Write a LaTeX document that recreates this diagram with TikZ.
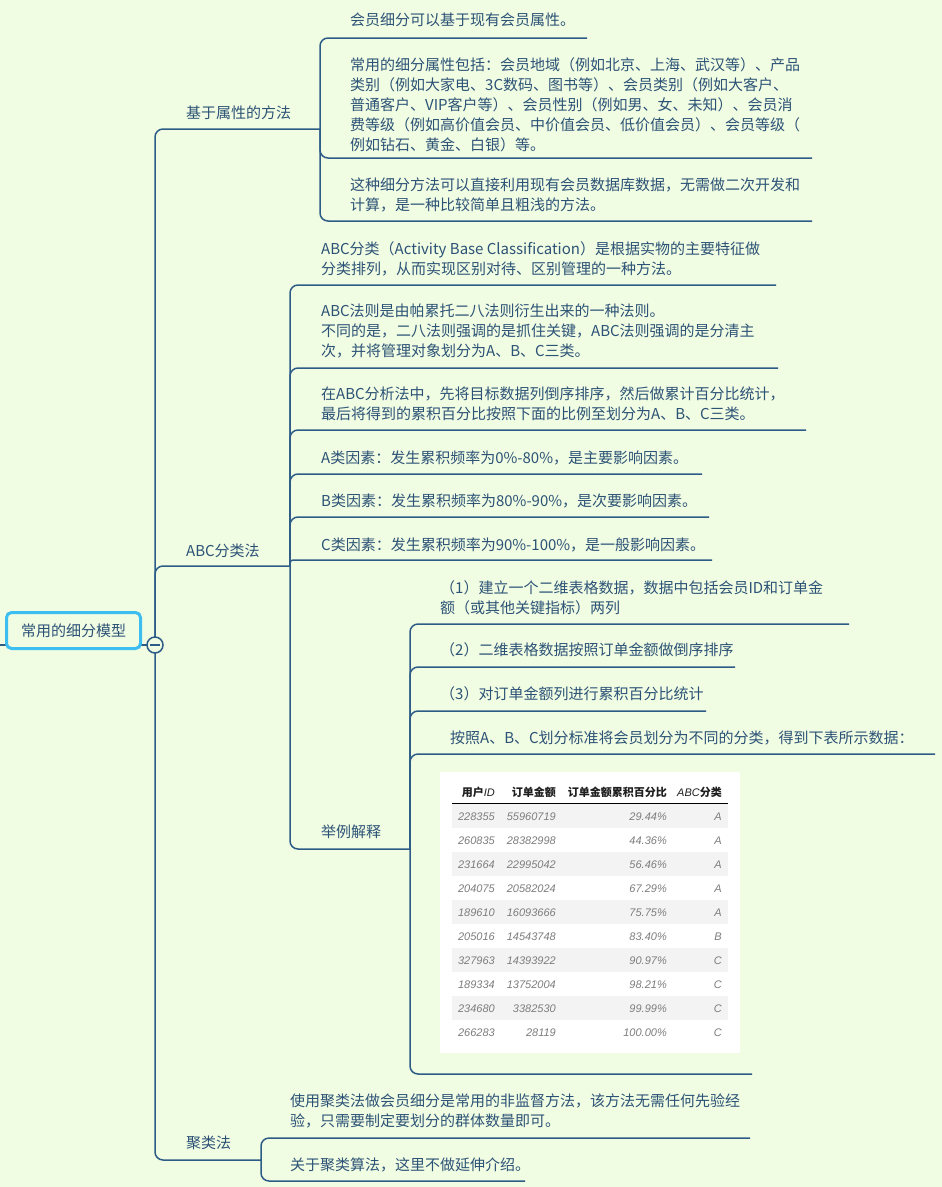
\documentclass[tikz,border=0pt]{standalone}
\usepackage{fontspec}
\setmainfont{Noto Sans CJK SC}
\newfontfamily\tabfont{Liberation Sans}
\definecolor{bg}{RGB}{241,253,227}
\definecolor{linec}{RGB}{45,92,135}
\definecolor{textc}{RGB}{44,82,118}
\definecolor{rootc}{RGB}{60,190,240}
\definecolor{stripe}{RGB}{243,243,243}
\definecolor{tabgray}{RGB}{125,125,125}
\definecolor{tabhead}{RGB}{30,30,30}
\newcommand\mystrutx{\rule{0pt}{13.5pt}}
\tikzset{
  conn/.style={draw=linec, line width=1.5pt, rounded corners=8pt},
  txt/.style={anchor=north west, inner sep=0pt, align=left, text=textc, font=\fontsize{15}{20}\selectfont},
  rootbox/.style={draw=rootc, line width=3pt, rounded corners=5pt, fill=bg, minimum width=134pt, minimum height=36pt, inner sep=0pt, text=textc, font=\fontsize{15}{20}\selectfont},
  tabcell/.style={anchor=base east, inner sep=0pt, text=tabgray, font=\fontsize{11}{13}\tabfont\itshape},
  tabhd/.style={anchor=base east, inner sep=0pt, text=tabhead, font=\fontsize{11}{13}\selectfont\bfseries}
}
\begin{document}
\begin{tikzpicture}[x=1pt,y=-1pt]
\fill[bg] (0,0) rectangle (942,1187);
\useasboundingbox (0,0) rectangle (942,1187);

% junctions and underline ends
\coordinate (j0) at (155,645);
\coordinate (rootL) at (0,645);
\coordinate (jA) at (320,129);
\coordinate (jB) at (290,566);
\coordinate (jK) at (261,1160);
\coordinate (uA1) at (587,38);
\coordinate (uA2) at (812,158);
\coordinate (uA3) at (812,221);
\coordinate (uB1) at (776,285);
\coordinate (uB2) at (778,368);
\coordinate (uB3) at (806,430);
\coordinate (uB4) at (702,474);
\coordinate (uB5) at (709,517);
\coordinate (uB6) at (712,560);
\coordinate (jE) at (410,849);
\coordinate (uC1) at (849,624);
\coordinate (uC2) at (735,667);
\coordinate (uC3) at (706,711);
\coordinate (uC4) at (935,754);
\coordinate (uC5) at (752,1074);
\coordinate (uK1) at (750,1138);
\coordinate (uK2) at (525,1181);

% connectors
\draw[conn] (rootL) -- (j0);
\draw[conn] (j0) |- (jA);
\draw[conn] (j0) |- (jB);
\draw[conn] (j0) |- (jK);
\draw[conn] (jA) |- (uA1);
\draw[conn] (jA) |- (uA2);
\draw[conn] (jA) |- (uA3);
\draw[conn] (jB) |- (uB1);
\draw[conn] (jB) |- (uB2);
\draw[conn] (jB) |- (uB3);
\draw[conn] (jB) |- (uB4);
\draw[conn] (jB) |- (uB5);
\draw[conn, rounded corners=3pt] (jB) |- (uB6);
\draw[conn] (jB) |- (jE);
\draw[conn] (jE) |- (uC1);
\draw[conn] (jE) |- (uC2);
\draw[conn] (jE) |- (uC3);
\draw[conn] (jE) |- (uC4);
\draw[conn] (jE) |- (uC5);
\draw[conn] (jK) |- (uK1);
\draw[conn] (jK) |- (uK2);

% root
\node[rootbox] (root) at (73.5,630.5) {常用的细分模型};
\node[circle, draw=linec, line width=1.5pt, fill=bg, minimum size=16pt, inner sep=0pt] (collapse) at (j0) {};
\draw[linec, line width=1.5pt] ([xshift=-5pt]collapse.center) -- ([xshift=5pt]collapse.center);

% level 1
\node[txt] (tA) at (186,105.2) {\mystrutx 基于属性的方法};
\node[txt] (tB) at (186,542.7) {\mystrutx ABC分类法};
\node[txt] (tK) at (186,1135.2) {\mystrutx 聚类法};

% attribute children
\node[txt] (tA1) at (350,12.2) {\mystrutx 会员细分可以基于现有会员属性。};
\node[txt] (tA2) at (350,57.2) {\mystrutx 常用的细分属性包括：会员地域（例如北京、上海、武汉等）、产品\\
类别（例如大家电、3C数码、图书等）、会员类别（例如大客户、\\
普通客户、VIP客户等）、会员性别（例如男、女、未知）、会员消\\
费等级（例如高价值会员、中价值会员、低价值会员）、会员等级（\\
例如钻石、黄金、白银）等。};
\node[txt] (tA3) at (350,177.2) {\mystrutx 这种细分方法可以直接利用现有会员数据库数据，无需做二次开发和\\
计算，是一种比较简单且粗浅的方法。};

% ABC children
\node[txt] (tB1) at (321,241.2) {\mystrutx ABC分类（Activity Base Classification）是根据实物的主要特征做\\
分类排列，从而实现区别对待、区别管理的一种方法。};
\node[txt] (tB2) at (321,303.2) {\mystrutx ABC法则是由帕累托二八法则衍生出来的一种法则。\\
不同的是，二八法则强调的是抓住关键，ABC法则强调的是分清主\\
次，并将管理对象划分为A、B、C三类。};
\node[txt] (tB3) at (321,386.2) {\mystrutx 在ABC分析法中，先将目标数据列倒序排序，然后做累计百分比统计，\\
最后将得到的累积百分比按照下面的比例至划分为A、B、C三类。};
\node[txt] (tB4) at (321,450.2) {\mystrutx A类因素：发生累积频率为0\%-80\%，是主要影响因素。};
\node[txt] (tB5) at (321,492.7) {\mystrutx B类因素：发生累积频率为80\%-90\%，是次要影响因素。};
\node[txt] (tB6) at (321,537.2) {\mystrutx C类因素：发生累积频率为90\%-100\%，是一般影响因素。};
\node[txt] (tB7) at (321,824.2) {\mystrutx 举例解释};

% example children
\node[txt] (tC1) at (440,580.2) {\mystrutx （1）建立一个二维表格数据，数据中包括会员ID和订单金\\
额（或其他关键指标）两列};
\node[txt] (tC2) at (440,642.2) {\mystrutx （2）二维表格数据按照订单金额做倒序排序};
\node[txt] (tC3) at (440,686.2) {\mystrutx （3）对订单金额列进行累积百分比统计};
\node[txt] (tC4) at (450,730.2) {\mystrutx 按照A、B、C划分标准将会员划分为不同的分类，得到下表所示数据：};

% table
\node[fill=white, minimum width=300pt, minimum height=281pt, inner sep=0pt, anchor=north west] (tbl) at (440,772) {};
\foreach \id/\amt/\pct/\cls [count=\i] in {228355/55960719/29.44\%/A, 260835/28382998/44.36\%/A, 231664/22995042/56.46\%/A, 204075/20582024/67.29\%/A, 189610/16093666/75.75\%/A, 205016/14543748/83.40\%/B, 327963/14393922/90.97\%/C, 189334/13752004/98.21\%/C, 234680/3382530/99.99\%/C, 266283/28119/100.00\%/C} {
  \pgfmathsetmacro\yc{816+24*(\i-1)}
  \ifodd\i \fill[stripe] (452,\yc-12) rectangle (728,\yc+12); \fi
  \node[tabcell] (id\i) at (495,\yc+4) {\id};
  \node[tabcell] (amt\i) at (556,\yc+4) {\amt};
  \node[tabcell] (pct\i) at (667,\yc+4) {\pct};
  \node[tabcell] (cls\i) at (722,\yc+4) {\cls};
}
\node[tabhd] (h1) at (495,796) {用户{\tabfont\mdseries\itshape ID}};
\node[tabhd] (h2) at (556,796) {订单金额};
\node[tabhd] (h3) at (667,796) {订单金额累积百分比};
\node[tabhd] (h4) at (722,796) {{\tabfont\mdseries\itshape ABC}分类};
\draw[black, line width=1pt] (452,803.5) -- (728,803.5);

% clustering children
\node[txt] (tK1) at (290,1093.2) {\mystrutx 使用聚类法做会员细分是常用的非监督方法，该方法无需任何先验经\\
验，只需要制定要划分的群体数量即可。};
\node[txt] (tK2) at (290,1157.2) {\mystrutx 关于聚类算法，这里不做延伸介绍。};
\end{tikzpicture}
\end{document}
